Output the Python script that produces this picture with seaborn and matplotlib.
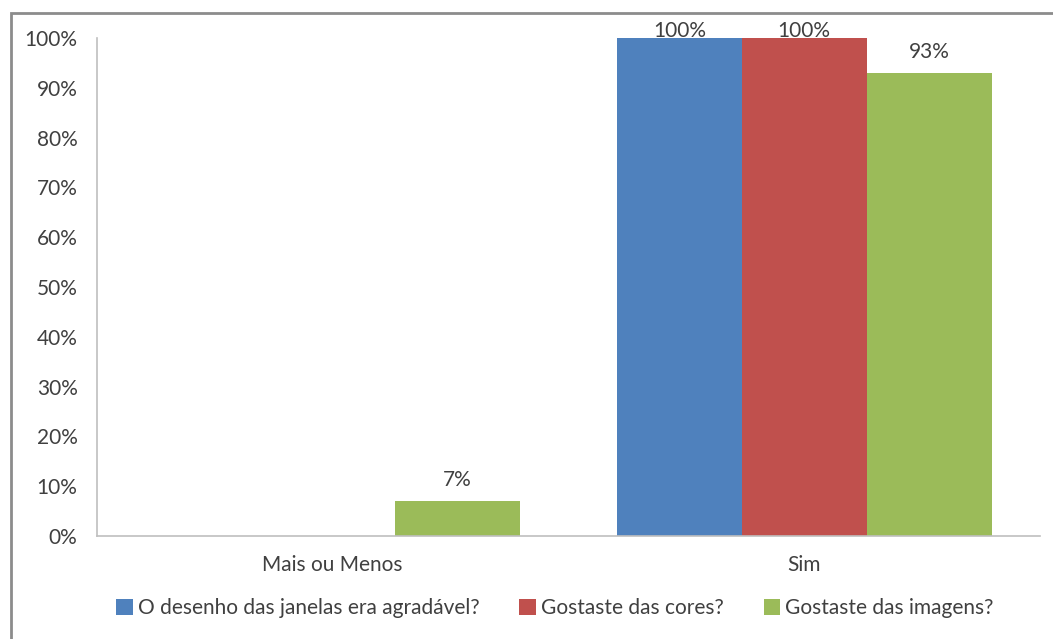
import matplotlib
matplotlib.use("Agg")
import matplotlib.pyplot as plt
import matplotlib.patches as mpatches
import pandas as pd
import seaborn as sns

# Survey answers (percent of respondents)
categories = ["Mais ou Menos", "Sim"]
series_names = [
    "O desenho das janelas era agradável?",
    "Gostaste das cores?",
    "Gostaste das imagens?",
]
janelas = [0, 100]
cores = [0, 100]
imagens = [7, 93]
colors = ["#4F81BD", "#C0504D", "#9BBB59"]
ytick_labels = ["0%", "10%", "20%", "30%", "40%", "50%", "60%", "70%", "80%", "90%", "100%"]

rows = []
for name, vals in zip(series_names, [janelas, cores, imagens]):
    for cat, v in zip(categories, vals):
        rows.append({"Resposta": cat, "Pergunta": name, "Valor": v})
df = pd.DataFrame(rows)

sns.set_theme(style="white")
plt.rcParams["font.family"] = ["Lato", "DejaVu Sans"]
text_color = "#404040"
axis_color = "#BFBFBF"
fs = 15

fig = plt.figure(figsize=(10.53, 6.39), dpi=100)
ax = fig.add_axes([97 / 1053, 1 - 536 / 639, (1040 - 97) / 1053, (536 - 38) / 639])

sns.barplot(
    data=df, x="Resposta", y="Valor", hue="Pergunta",
    order=categories, hue_order=series_names, palette=colors,
    width=0.795, saturation=1, ax=ax, legend=True, linewidth=0,
)

ax.set_xlim(-0.5, 1.5)
ax.set_ylim(0, 100)
ax.set_yticks(range(0, 101, 10))
ax.set_yticklabels(ytick_labels)
ax.set_xlabel("")
ax.set_ylabel("")
ax.tick_params(axis="both", length=0, labelsize=fs, colors=text_color)
ax.tick_params(axis="y", pad=14)
ax.tick_params(axis="x", pad=14)
for side in ["top", "right"]:
    ax.spines[side].set_visible(False)
for side in ["left", "bottom"]:
    ax.spines[side].set_color(axis_color)
    ax.spines[side].set_linewidth(1.2)

# Value labels above non-zero bars, kept inside the chart frame
for container in ax.containers:
    for bar in container:
        h = bar.get_height()
        if h <= 0:
            continue
        y = min(h + 4.2, 101.4)
        ax.text(bar.get_x() + bar.get_width() / 2, y, f"{h:.0f}%",
                ha="center", va="center", fontsize=fs, color=text_color,
                clip_on=False)

handles, labels = ax.get_legend_handles_labels()
ax.legend_.remove()
fig.legend(
    handles, labels, loc="center", bbox_to_anchor=(555 / 1053, 1 - 608 / 639),
    ncol=3, frameon=False, fontsize=fs, handlelength=0.8, handleheight=0.8,
    handletextpad=0.25, columnspacing=1.9, labelcolor=text_color,
)

# Chart border
fig.patches.append(mpatches.Rectangle(
    (11 / 1053, -0.05), 1.2, 1 - 13 / 639 + 0.05, transform=fig.transFigure,
    fill=False, edgecolor="#8C8C8C", linewidth=2, zorder=10))

fig.savefig("out.png", dpi=100)
